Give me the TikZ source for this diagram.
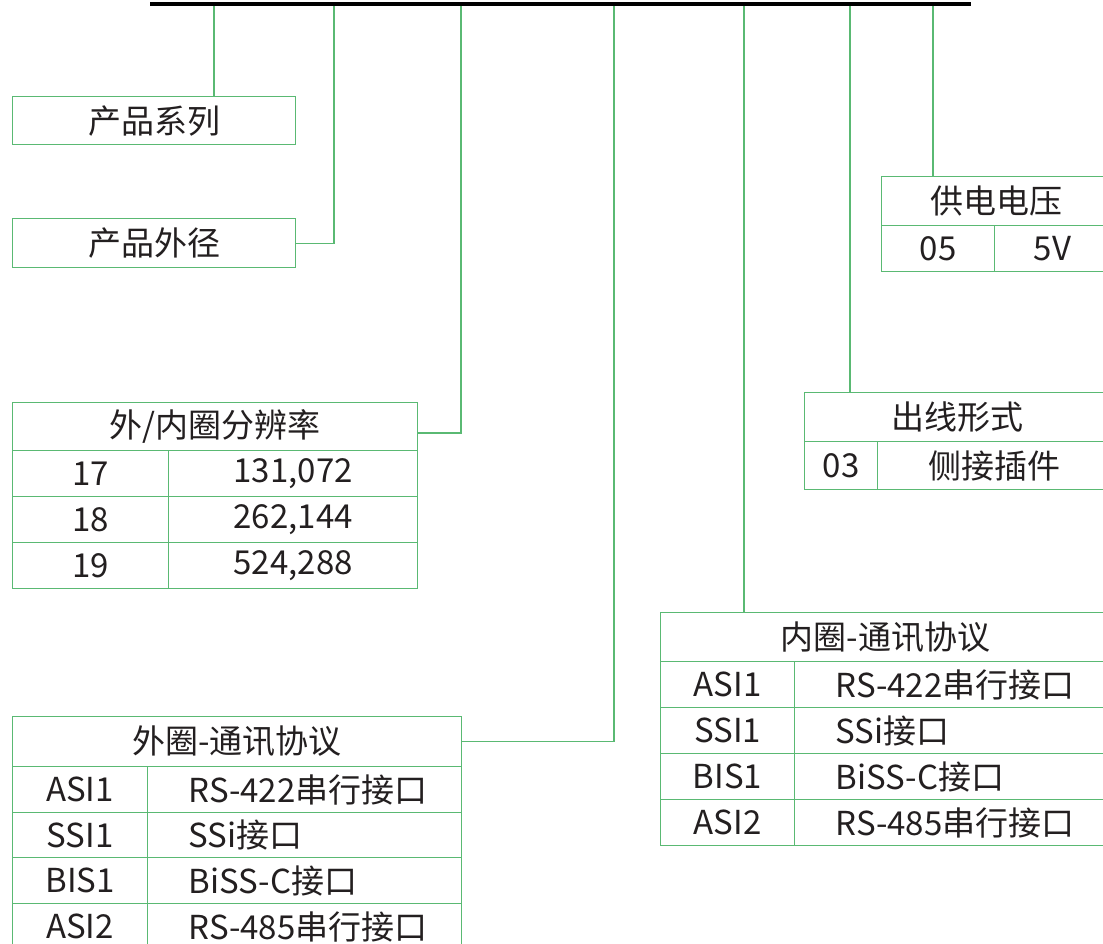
\documentclass[tikz,border=0pt]{standalone}
\usepackage{fontspec}
\setmainfont{Noto Sans CJK SC}
\definecolor{lgreen}{RGB}{90,185,115}
\definecolor{ink}{RGB}{35,31,32}
\begin{document}
\begin{tikzpicture}[x=1pt,y=-1pt,
 cell/.style 2 args={draw=lgreen,line width=1.2pt,anchor=north west,inner sep=0pt,minimum width=#1,minimum height=#2,text=ink,font=\fontsize{33}{39}\selectfont},
 lcell/.style 2 args={cell={#1}{#2},text width=#1,align=left},
 link/.style={draw=lgreen,line width=1.2pt}]
 \useasboundingbox (0,0) rectangle (1103,943);
 \clip (0,0) rectangle (1103,943);
 % points on the bar
 \coordinate (t1) at (214,4);
 \coordinate (t2) at (334,4);
 \coordinate (t3) at (461,4);
 \coordinate (t4) at (614,4);
 \coordinate (t5) at (744,4);
 \coordinate (t6) at (850,4);
 \coordinate (t7) at (933,4);
 \coordinate (k3) at (461,433);
 % left side
 \node[cell={283pt}{48pt}] (series) at (12,96) {产品系列};
 \node[cell={283pt}{49pt}] (dia) at (12,218) {产品外径};
 \node[cell={405pt}{48pt}] (reshead) at (12,402) {外/内圈分辨率};
 \node[cell={156pt}{46pt}] (res1a) at (12,450) {17};
 \node[cell={249pt}{46pt}] (res1b) at (168,450) {131,072};
 \node[cell={156pt}{46pt}] (res2a) at (12,496) {18};
 \node[cell={249pt}{46pt}] (res2b) at (168,496) {262,144};
 \node[cell={156pt}{46pt}] (res3a) at (12,542) {19};
 \node[cell={249pt}{46pt}] (res3b) at (168,542) {524,288};
 \node[cell={449pt}{50pt}] (outhead) at (12,716) {外圈-通讯协议};
 \node[cell={135pt}{46pt}] (out1a) at (12,766) {ASI1};
 \node[lcell={314pt}{46pt}] (out1b) at (147,766) {\hspace*{41pt}RS-422串行接口};
 \node[cell={135pt}{45pt}] (out2a) at (12,812) {SSI1};
 \node[lcell={314pt}{45pt}] (out2b) at (147,812) {\hspace*{41pt}SSi接口};
 \node[cell={135pt}{46pt}] (out3a) at (12,857) {BIS1};
 \node[lcell={314pt}{46pt}] (out3b) at (147,857) {\hspace*{41pt}BiSS-C接口};
 \node[cell={135pt}{46pt}] (out4a) at (12,903) {ASI2};
 \node[lcell={314pt}{46pt}] (out4b) at (147,903) {\hspace*{41pt}RS-485串行接口};
 % right side
 \node[cell={229pt}{49pt}] (supplyhead) at (881,176) {供电电压};
 \node[cell={113pt}{46pt}] (sup1a) at (881,225) {05};
 \node[cell={116pt}{46pt}] (sup1b) at (994,225) {5V};
 \node[cell={306pt}{49pt}] (cablehead) at (804,392) {出线形式};
 \node[cell={73pt}{48pt}] (cable1a) at (804,441) {03};
 \node[cell={233pt}{48pt}] (cable1b) at (877,441) {侧接插件};
 \node[cell={450pt}{49pt}] (inhead) at (660,612) {内圈-通讯协议};
 \node[cell={134pt}{46pt}] (in1a) at (660,661) {ASI1};
 \node[lcell={316pt}{46pt}] (in1b) at (794,661) {\hspace*{41pt}RS-422串行接口};
 \node[cell={134pt}{46pt}] (in2a) at (660,707) {SSI1};
 \node[lcell={316pt}{46pt}] (in2b) at (794,707) {\hspace*{41pt}SSi接口};
 \node[cell={134pt}{46pt}] (in3a) at (660,753) {BIS1};
 \node[lcell={316pt}{46pt}] (in3b) at (794,753) {\hspace*{41pt}BiSS-C接口};
 \node[cell={134pt}{46pt}] (in4a) at (660,799) {ASI2};
 \node[lcell={316pt}{46pt}] (in4b) at (794,799) {\hspace*{41pt}RS-485串行接口};
 % connectors
 \draw[link] (t1) -- (t1 |- series.north);
 \draw[link] (t2) |- (dia.east);
 \draw[link] (t3) -- (k3) -- (k3 -| reshead.east);
 \draw[link] (t4) |- (outhead.east);
 \draw[link] (t5) -- (t5 |- inhead.north);
 \draw[link] (t6) -- (t6 |- cablehead.north);
 \draw[link] (t7) -- (t7 |- supplyhead.north);
 \draw[line width=4pt] (150,4) -- (971,4);
\end{tikzpicture}
\end{document}
